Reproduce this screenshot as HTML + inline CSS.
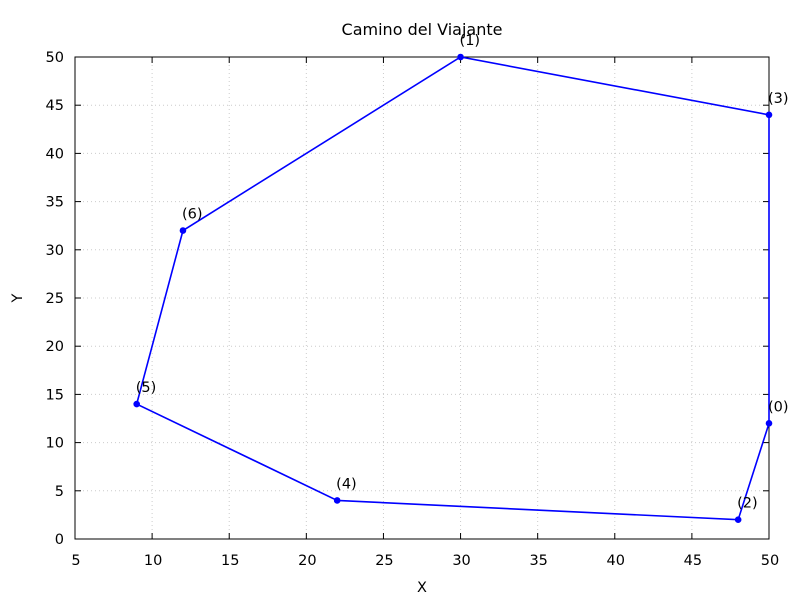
<!DOCTYPE html>
<html><head><meta charset="utf-8"><style>body{margin:0;background:#fff}svg text{font-family:"DejaVu Sans","Liberation Sans",sans-serif;font-size:14.5px;fill:#000}</style></head>
<body>
<svg width="800" height="600" xmlns="http://www.w3.org/2000/svg">
<g id="grid"></g>
<g id="ticks"></g>
<rect x="75" y="57" width="694" height="482" fill="none" stroke="#000" stroke-width="1"/>
<text x="422" y="35" text-anchor="middle" style="font-size:16px">Camino del Viajante</text>
<text x="422" y="592" text-anchor="middle">X</text>
<text x="22" y="298" text-anchor="middle" transform="rotate(-90 22 298)">Y</text>
<g id="series"></g>
</svg>
<script>
const labels=["(0)","(2)","(4)","(5)","(6)","(1)","(3)"];
const xs=[50,48,22,9,12,30,50];
const ys=[12,2,4,14,32,50,44];
const xTicks=[5,10,15,20,25,30,35,40,45,50];
const yTicks=[0,5,10,15,20,25,30,35,40,45,50];
const NS="http://www.w3.org/2000/svg";
const X=v=>75+(v-5)*694/45, Y=v=>539-v*482/50;
function mk(t,a,p){const e=document.createElementNS(NS,t);for(const k in a)e.setAttribute(k,a[k]);p.appendChild(e);return e;}
const g=document.getElementById('grid'),tk=document.getElementById('ticks'),s=document.getElementById('series');
xTicks.forEach(v=>{const x=X(v);
 if(v>5&&v<50){const l=mk('line',{x1:x,x2:x,y1:57,y2:539,stroke:'#ccc','stroke-dasharray':'1,3'},g);}
 mk('line',{x1:x,x2:x,y1:539,y2:533,stroke:'#000'},tk);mk('line',{x1:x,x2:x,y1:57,y2:63,stroke:'#000'},tk);
 const t=mk('text',{x:x+1,y:565,'text-anchor':'middle'},tk);t.textContent=v;});
yTicks.forEach(v=>{const y=Y(v);
 if(v>0&&v<50){const l=mk('line',{x1:75,x2:769,y1:y,y2:y,stroke:'#ccc','stroke-dasharray':'1,3'},g);}
 mk('line',{x1:75,x2:81,y1:y,y2:y,stroke:'#000'},tk);mk('line',{x1:769,x2:763,y1:y,y2:y,stroke:'#000'},tk);
 const t=mk('text',{x:64,y:y+5,'text-anchor':'end'},tk);t.textContent=v;});
let d=xs.map((v,i)=>(i?'L':'M')+X(v)+','+Y(ys[i])).join('')+'Z';
const p=mk('path',{d:d,fill:'none',stroke:'#0000ff','stroke-width':1.6},s);

xs.forEach((v,i)=>{const c=mk('circle',{cx:X(v),cy:Y(ys[i]),r:3.3,fill:'#0000ff'},s);
 
 const t=mk('text',{x:X(v)-1,y:Y(ys[i])-12},s);t.textContent=labels[i];
 });
</script>
</body></html>
